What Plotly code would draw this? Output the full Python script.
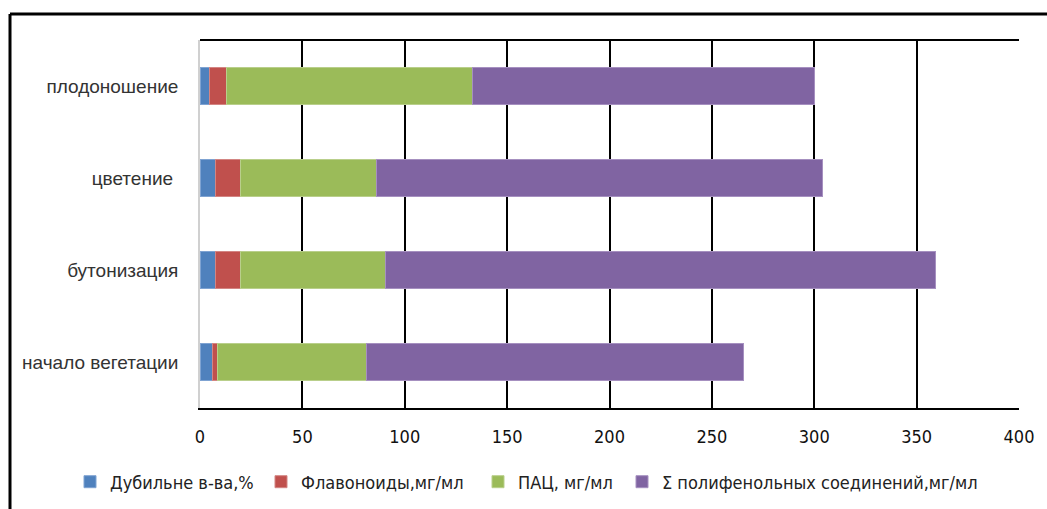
import plotly.graph_objects as go

stages = ["начало вегетации", "бутонизация", "цветение ", "плодоношение"]
tannins = [6.0, 7.7, 7.7, 4.5]
flavonoids = [2.7, 11.9, 11.9, 8.5]
pac = [72.5, 71.2, 66.4, 120.2]
polyphenols = [184.4, 268.3, 218.0, 167.0]
x_ticks = [0, 50, 100, 150, 200, 250, 300, 350, 400]

series = [
    ("Дубильне в-ва,%", tannins, "#4F81BD", "#7FA3D2"),
    ("Флавоноиды,мг/мл", flavonoids, "#C0504D", "#D38583"),
    ("ПАЦ, мг/мл", pac, "#9BBB59", "#B9CF8B"),
    ("Σ полифенольных соединений,мг/мл", polyphenols, "#8064A2", "#A690C0"),
]
# left edge (px) of each legend entry along the bottom row
legend_left = [70, 261, 478, 622]

narrow = "Liberation Sans Narrow, Arial Narrow, DejaVu Sans Condensed, sans-serif"

fig = go.Figure()
legends = {}
for i, (name, vals, col, edge) in enumerate(series):
    key = "legend" if i == 0 else f"legend{i + 1}"
    fig.add_trace(go.Bar(
        y=stages, x=vals, name=name, orientation="h", legend=key,
        marker=dict(color=col, line=dict(color=edge, width=1)),
    ))
    legends[key] = dict(
        orientation="h", xref="container", yref="container",
        x=legend_left[i] / 1047, xanchor="left",
        y=1 - 482 / 509, yanchor="middle",
        font=dict(family=narrow, size=18, color="#222"),
        itemwidth=30, bgcolor="rgba(0,0,0,0)",
    )

fig.update_layout(
    barmode="stack",
    bargap=0.6,
    width=1047, height=509,
    margin=dict(l=200, r=28, t=40, b=101, autoexpand=False),
    paper_bgcolor="white", plot_bgcolor="white",
    showlegend=True,
    xaxis=dict(
        range=[0, 400], tickvals=x_ticks, ticktext=[str(v) for v in x_ticks],
        showgrid=True, gridcolor="black", gridwidth=2,
        showline=True, linecolor="black", linewidth=2,
        zeroline=False, ticks="", ticklen=0, ticklabelstandoff=11,
        tickfont=dict(family=narrow, size=18, color="#111"),
    ),
    yaxis=dict(
        showline=True, linecolor="#d0d0d0", linewidth=2,
        showgrid=False, ticks="", ticklen=0, ticksuffix="   ",
        tickfont=dict(family="Liberation Sans, Arial, sans-serif", size=19, color="#333"),
    ),
    shapes=[
        dict(type="line", xref="paper", yref="paper",
             x0=(10 - 200) / 819, x1=(1047 - 200) / 819,
             y0=(408 - 14) / 368, y1=(408 - 14) / 368,
             line=dict(color="black", width=3)),
        dict(type="line", xref="paper", yref="paper",
             x0=(10 - 200) / 819, x1=(10 - 200) / 819,
             y0=(408 - 14) / 368, y1=(408 - 520) / 368,
             line=dict(color="black", width=3)),
        dict(type="line", xref="paper", yref="paper",
             x0=0, x1=1, y0=1, y1=1,
             line=dict(color="black", width=2)),
    ],
    **legends,
)

fig.write_html("out.html")
